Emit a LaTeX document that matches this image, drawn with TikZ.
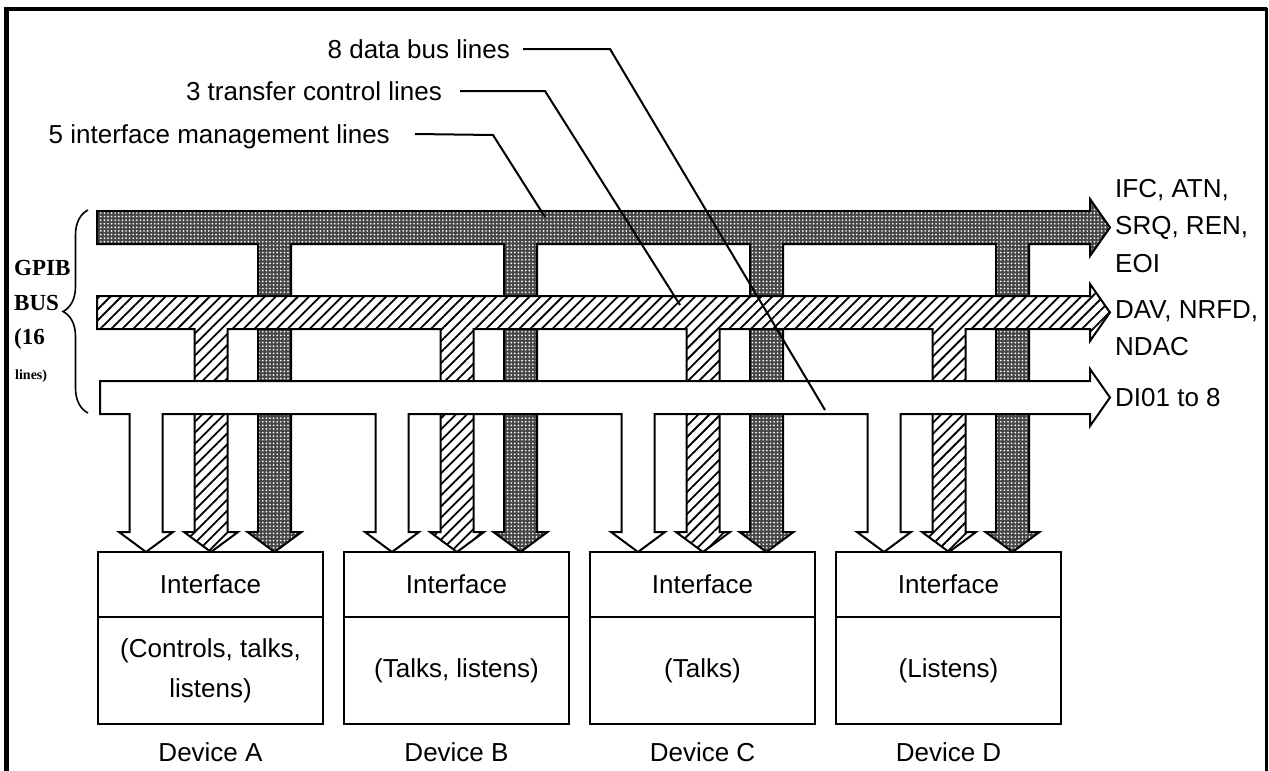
\documentclass[tikz,border=0pt]{standalone}
\usepackage{fontspec}
\setmainfont{Liberation Sans}
\newfontfamily\gpibfont{Liberation Serif}
\usetikzlibrary{patterns.meta,decorations.pathreplacing}
\begin{document}
\begin{tikzpicture}[x=1pt,y=-1pt,line join=miter,
  busline/.style={draw=black,line width=2pt},
  darkbus/.style={busline,preaction={fill=black!72},pattern={Dots[distance=3.6pt,radius=0.95pt]},pattern color=white},
  hatchbus/.style={busline,preaction={fill=white},pattern={Lines[angle=45,distance=7.8pt,line width=1.8pt]},pattern color=black},
  whitebus/.style={busline,fill=white},
  lbl/.style={font=\fontsize{26}{37.5}\selectfont,inner sep=0pt,text height=19pt,text depth=0pt},
  rlbl/.style={font=\fontsize{26}{37.5}\selectfont,inner sep=0pt,align=left,anchor=west},
  ifbox/.style={draw,line width=2pt,minimum width=225pt,minimum height=65pt,inner sep=0pt,outer sep=0pt,font=\fontsize{26}{37}\selectfont},
  bodybox/.style={draw,line width=2pt,minimum width=225pt,minimum height=107pt,inner sep=0pt,outer sep=0pt,align=center,font=\fontsize{26}{40}\selectfont},
  devlbl/.style={font=\fontsize{26}{30}\selectfont,inner sep=0pt},
  pointer/.style={draw,line width=2pt},
  gpib/.style={font=\gpibfont\bfseries\fontsize{23}{26}\selectfont,inner sep=0pt,anchor=west}
]
\useasboundingbox (0,0) rectangle (1269,771);
% frame
\draw[line width=5pt] (6,771) -- (6,9);
\draw[line width=4pt] (4,9) -- (1267,9);
\draw[line width=3pt] (1266,7.5) -- (1266,771);

% dark bus (interface management)
\draw[darkbus] (97,211) -- (1090,211) -- (1090,199) -- (1110,227.5) -- (1090,256) -- (1090,244)
  \foreach \c in {1012.5,766.5,520.5,274.5} { -- (\c+16.5,244) -- (\c+16.5,532) -- (\c+27,532) -- (\c,552) -- (\c-27,532) -- (\c-16.5,532) -- (\c-16.5,244) }
  -- (97,244) -- cycle;
% hatched bus (transfer control)
\draw[hatchbus] (97,296) -- (1090,296) -- (1090,284) -- (1110,312.5) -- (1090,341) -- (1090,329)
  \foreach \c in {949,703,457,211} { -- (\c+16.5,329) -- (\c+16.5,532) -- (\c+27,532) -- (\c,552) -- (\c-27,532) -- (\c-16.5,532) -- (\c-16.5,329) }
  -- (97,329) -- cycle;
% white bus (data)
\draw[whitebus] (100,381) -- (1090,381) -- (1090,369) -- (1110,397.5) -- (1090,426) -- (1090,414)
  \foreach \c in {884,638,392,146} { -- (\c+16.5,414) -- (\c+16.5,532) -- (\c+27,532) -- (\c,552) -- (\c-27,532) -- (\c-16.5,532) -- (\c-16.5,414) }
  -- (100,414) -- cycle;

% devices
\node[ifbox] (ifA) at (210.5,584.5) {Interface};
\node[bodybox,anchor=north] (bdA) at (ifA.south) {(Controls, talks,\\listens)};
\node[devlbl] (dvA) at (210.5,752) {Device A};
\node[ifbox] (ifB) at (456.5,584.5) {Interface};
\node[bodybox,anchor=north] (bdB) at (ifB.south) {(Talks, listens)};
\node[devlbl] (dvB) at (456.5,752) {Device B};
\node[ifbox] (ifC) at (702.5,584.5) {Interface};
\node[bodybox,anchor=north] (bdC) at (ifC.south) {(Talks)};
\node[devlbl] (dvC) at (702.5,752) {Device C};
\node[ifbox] (ifD) at (948.5,584.5) {Interface};
\node[bodybox,anchor=north] (bdD) at (ifD.south) {(Listens)};
\node[devlbl] (dvD) at (948.5,752) {Device D};

% right labels
\node[rlbl] (sigA) at (1115,226) {IFC, ATN,\\SRQ, REN,\\EOI};
\node[rlbl] (sigB) at (1115,328) {DAV, NRFD,\\NDAC};
\node[rlbl] (sigC) at (1115,398) {DI01 to 8};

% brace and GPIB label
\draw[line width=1.6pt,decorate,decoration={brace,amplitude=25pt}] (88,413) -- (88,210);
\node[gpib] (g1) at (14,268) {GPIB};
\node[gpib] (g2) at (14,303) {BUS};
\node[gpib] (g3) at (14,339) {(16};
\node[gpib,font=\gpibfont\bfseries\fontsize{14}{16}\selectfont] (g4) at (15,376) {lines)};

% top labels with pointers
\node[lbl,anchor=east] (l8) at (510,49) {8 data bus lines};
\node[lbl,anchor=east] (l3) at (442,91) {3 transfer control lines};
\node[lbl,anchor=east] (l5) at (390,134) {5 interface management lines};
\coordinate (p8a) at (610,49);
\coordinate (p8b) at (825,410);
\coordinate (p3a) at (545,91);
\coordinate (p3b) at (680,305);
\coordinate (p5a) at (493,135);
\coordinate (p5b) at (545,217);
\draw[pointer] ([xshift=13pt]l8.east) -- (p8a) -- (p8b);
\draw[pointer] ([xshift=18pt]l3.east) -- (p3a) -- (p3b);
\draw[pointer] ([xshift=25pt]l5.east) -- (p5a) -- (p5b);
\end{tikzpicture}
\end{document}
